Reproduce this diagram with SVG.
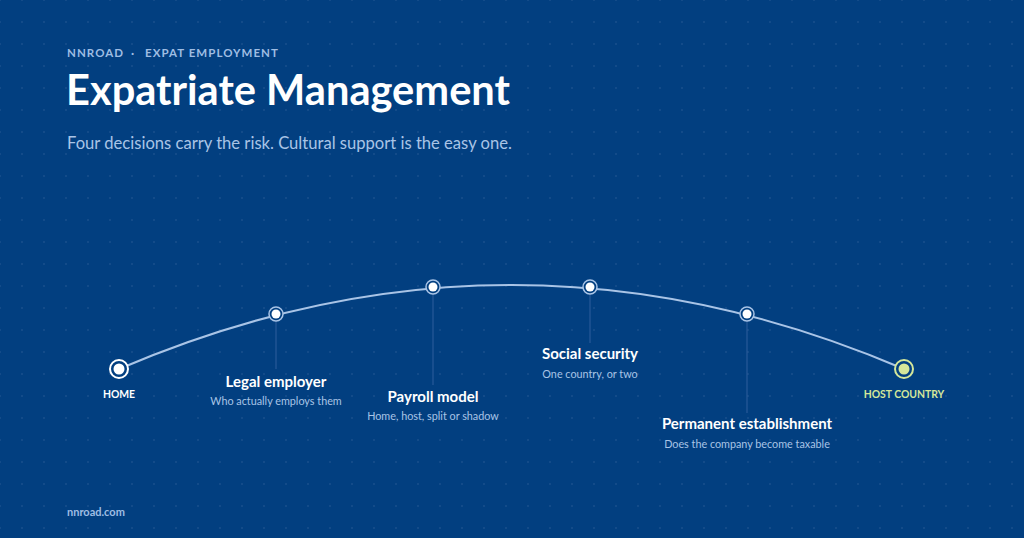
<svg xmlns="http://www.w3.org/2000/svg" width="1024" height="538" viewBox="0 0 1024 538">
<defs>
<pattern id="grid" width="22" height="22" patternUnits="userSpaceOnUse">
<circle cx="0" cy="0" r="1" fill="#2f5d98" opacity="0.5"/>
<circle cx="22" cy="0" r="1" fill="#2f5d98" opacity="0.5"/>
<circle cx="0" cy="22" r="1" fill="#2f5d98" opacity="0.5"/>
<circle cx="22" cy="22" r="1" fill="#2f5d98" opacity="0.5"/>
</pattern>
<style>
text{font-family:Lato,"Liberation Sans",sans-serif}
.kicker{font-size:11.5px;font-weight:700;letter-spacing:1.05px;fill:#9fbde3}
.title{font-size:41.6px;font-weight:700;fill:#ffffff}
.sub{font-size:16.6px;fill:#a9c4e6}
.lbl{font-size:15px;font-weight:700;fill:#ffffff;text-anchor:middle}
.desc{font-size:10.8px;fill:#a9c4e6;text-anchor:middle}
.end{font-size:10.4px;font-weight:700;text-anchor:middle}
.drop{stroke:#2f5f9c;stroke-width:1}
.foot{font-size:11px;font-weight:700;fill:#9fbde3}
</style>
</defs>
<rect width="1024" height="538" fill="#023f80"/>
<rect width="1024" height="538" fill="url(#grid)"/>
<text class="kicker" y="57"><tspan x="67">NNROAD</tspan><tspan x="131">·</tspan><tspan x="145">EXPAT EMPLOYMENT</tspan></text>
<text class="title" x="66" y="105">Expatriate Management</text>
<text class="sub" x="67" y="149">Four decisions carry the risk. Cultural support is the easy one.</text>
<g id="connectors">
<path d="M119 369 Q511.5 201 904 369" fill="none" stroke="#a9c4e6" stroke-width="2"/>
<line class="drop" x1="276" y1="321" x2="276" y2="369"/>
<line class="drop" x1="433" y1="294" x2="433" y2="385"/>
<line class="drop" x1="590" y1="294" x2="590" y2="343"/>
<line class="drop" x1="747" y1="321" x2="747" y2="413"/>
</g>
<g id="home">
<circle cx="119" cy="369" r="9" fill="#023f80" stroke="#ffffff" stroke-width="2"/>
<circle cx="119" cy="369" r="5.5" fill="#ffffff"/>
<text class="end" x="119" y="398" fill="#ffffff">HOME</text>
</g>
<g id="legal-employer">
<circle cx="276" cy="314" r="7" fill="#023f80" stroke="#a9c4e6" stroke-width="1.5"/>
<circle cx="276" cy="314" r="4.5" fill="#ffffff"/>
<text class="lbl" x="276" y="387">Legal employer</text>
<text class="desc" x="276" y="405">Who actually employs them</text>
</g>
<g id="payroll-model">
<circle cx="433" cy="287" r="7" fill="#023f80" stroke="#a9c4e6" stroke-width="1.5"/>
<circle cx="433" cy="287" r="4.5" fill="#ffffff"/>
<text class="lbl" x="433" y="402">Payroll model</text>
<text class="desc" x="433" y="420">Home, host, split or shadow</text>
</g>
<g id="social-security">
<circle cx="590" cy="287" r="7" fill="#023f80" stroke="#a9c4e6" stroke-width="1.5"/>
<circle cx="590" cy="287" r="4.5" fill="#ffffff"/>
<text class="lbl" x="590" y="359">Social security</text>
<text class="desc" x="590" y="378">One country, or two</text>
</g>
<g id="permanent-establishment">
<circle cx="747" cy="314" r="7" fill="#023f80" stroke="#a9c4e6" stroke-width="1.5"/>
<circle cx="747" cy="314" r="4.5" fill="#ffffff"/>
<text class="lbl" x="747" y="429">Permanent establishment</text>
<text class="desc" x="747" y="448">Does the company become taxable</text>
</g>
<g id="host-country">
<circle cx="904" cy="369" r="9" fill="#023f80" stroke="#d4e79a" stroke-width="2"/>
<circle cx="904" cy="369" r="5.5" fill="#d4e79a"/>
<text class="end" x="904" y="398" fill="#d4e79a">HOST COUNTRY</text>
</g>
<text class="foot" x="67" y="516">nnroad.com</text>
</svg>
